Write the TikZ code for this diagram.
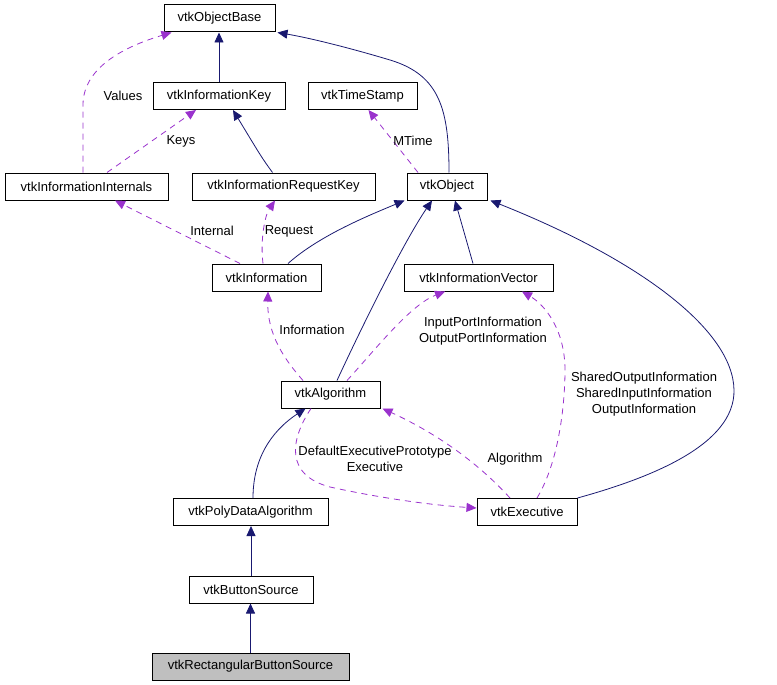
\documentclass[tikz,border=0pt]{standalone}
\usepackage{fontspec}
\setmainfont{Liberation Sans}
\usetikzlibrary{arrows.meta}

\definecolor{inhcol}{HTML}{191970}
\definecolor{usecol}{HTML}{9A32CD}

\begin{document}
\begin{tikzpicture}[x=1pt,y=-1pt,line width=0.8pt,
  font=\fontsize{13}{16}\selectfont,
  cls/.style={draw=black,line width=1pt,fill=white,inner sep=0pt,minimum height=27pt},
  inherit/.style={draw=inhcol,-{Triangle[length=10pt,width=9pt]}},
  usage/.style={draw=usecol,dash pattern=on 6pt off 5pt,-{Triangle[length=10pt,width=9pt]}},
  elabel/.style={align=center,inner sep=0pt}]
  \useasboundingbox (0,0) rectangle (777,685);
  % klassen
  \node[cls,minimum width=111pt] (obase) at (219.5,18.5) {vtkObjectBase};
  \node[cls,minimum width=132pt] (ikey) at (219,96) {vtkInformationKey};
  \node[cls,minimum width=109pt] (tstamp) at (362.5,96) {vtkTimeStamp};
  \node[cls,minimum width=163pt] (iint) at (86.5,186.5) {vtkInformationInternals};
  \node[cls,minimum width=183pt] (ireqkey) at (283.5,186.5) {vtkInformationRequestKey};
  \node[cls,minimum width=80pt] (obj) at (447,186.5) {vtkObject};
  \node[cls,minimum width=109pt] (info) at (266.5,277.5) {vtkInformation};
  \node[cls,minimum width=149pt] (ivec) at (478.5,277.5) {vtkInformationVector};
  \node[cls,minimum width=99pt] (alg) at (330.5,394.5) {vtkAlgorithm};
  \node[cls,minimum width=155pt] (pda) at (250.5,512) {vtkPolyDataAlgorithm};
  \node[cls,minimum width=100pt] (exec) at (527,512) {vtkExecutive};
  \node[cls,minimum width=124pt] (bsrc) at (251,589.5) {vtkButtonSource};
  \node[cls,minimum width=197pt,fill=black!25] (rect) at (250.5,666.5) {vtkRectangularButtonSource};
  % vererbung
  \draw[inherit] (ikey.north) -- (ikey.north |- obase.south);
  \draw[inherit] ([xshift=-11pt]ireqkey.north) .. controls (262,158) .. ([xshift=14pt]ikey.south);
  \draw[inherit] ([xshift=2pt]obj.north) .. controls (449,110) and (440,75) .. (390,60)
    .. controls (350,48) and (310,38) .. ([xshift=2pt]obase.south east);
  \draw[inherit] ([xshift=21.5pt]info.north) .. controls (320,235) and (370,215) .. ([xshift=-2pt]obj.south west);
  \draw[inherit] ([xshift=6.5pt]alg.north) .. controls (365,320) and (405,240) .. ([xshift=-15pt]obj.south);
  \draw[inherit] ([xshift=-5.5pt]ivec.north) -- ([xshift=8pt]obj.south);
  \draw[inherit] (exec.north east) .. controls (650,478) and (735,445) .. (734,390)
    .. controls (733,330) and (640,260) .. ([xshift=3pt]obj.south east);
  \draw[inherit] ([xshift=2.5pt]pda.north) .. controls (253,460) and (270,432) .. ([xshift=-25pt]alg.south);
  \draw[inherit] (bsrc.north) -- (bsrc.north |- pda.south);
  \draw[inherit] (rect.north) -- (rect.north |- bsrc.south);
  % benutzung
  \draw[usage] ([xshift=-3.5pt]iint.north) -- (83,105) .. controls (83,65) and (130,45) .. ([xshift=8pt]obase.south west);
  \node[elabel] (lvalues) at (123,96) {Values};
  \draw[usage] ([xshift=20.5pt]iint.north) -- ([xshift=-23pt]ikey.south);
  \node[elabel] (lkeys) at (181,141) {Keys};
  \draw[usage] ([xshift=-29pt]obj.north) -- ([xshift=6pt]tstamp.south);
  \node[elabel] (lmtime) at (413,141) {MTime};
  \draw[usage] ([xshift=-26.5pt]info.north) -- ([xshift=28.5pt]iint.south);
  \node[elabel] (linternal) at (212,231) {Internal};
  \draw[usage] ([xshift=-3.5pt]info.north) .. controls (260,240) and (265,215) .. ([xshift=-8.5pt]ireqkey.south);
  \node[elabel] (lrequest) at (289,231) {Request};
  \draw[usage] ([xshift=-27.5pt]alg.north) .. controls (285,360) and (267,335) .. ([xshift=1.5pt]info.south);
  \node[elabel] (linfo) at (312,330) {Information};
  \draw[usage] ([xshift=16.5pt]alg.north) .. controls (375,350) and (410,305) .. ([xshift=-33.5pt]ivec.south);
  \node[elabel] (lports) at (483,331) {InputPortInformation\\OutputPortInformation};
  \draw[usage] ([xshift=10pt]exec.north) .. controls (560,460) and (565,400) .. (565,370)
    .. controls (565,330) and (545,305) .. ([xshift=43.5pt]ivec.south);
  \node[elabel] (lshared) at (644,394) {SharedOutputInformation\\SharedInputInformation\\OutputInformation};
  \draw[usage] ([xshift=-17pt]exec.north) .. controls (480,465) and (440,435) .. ([xshift=2pt]alg.south east);
  \node[elabel] (lalg) at (515,459) {Algorithm};
  \draw[usage] ([xshift=-19.5pt]alg.south) .. controls (290,440) and (285,475) .. (330,487)
    .. controls (380,498) and (430,505) .. ([yshift=4pt]exec.west);
  \node[elabel] (lexec) at (375,459) {DefaultExecutivePrototype\\Executive};
\end{tikzpicture}
\end{document}
